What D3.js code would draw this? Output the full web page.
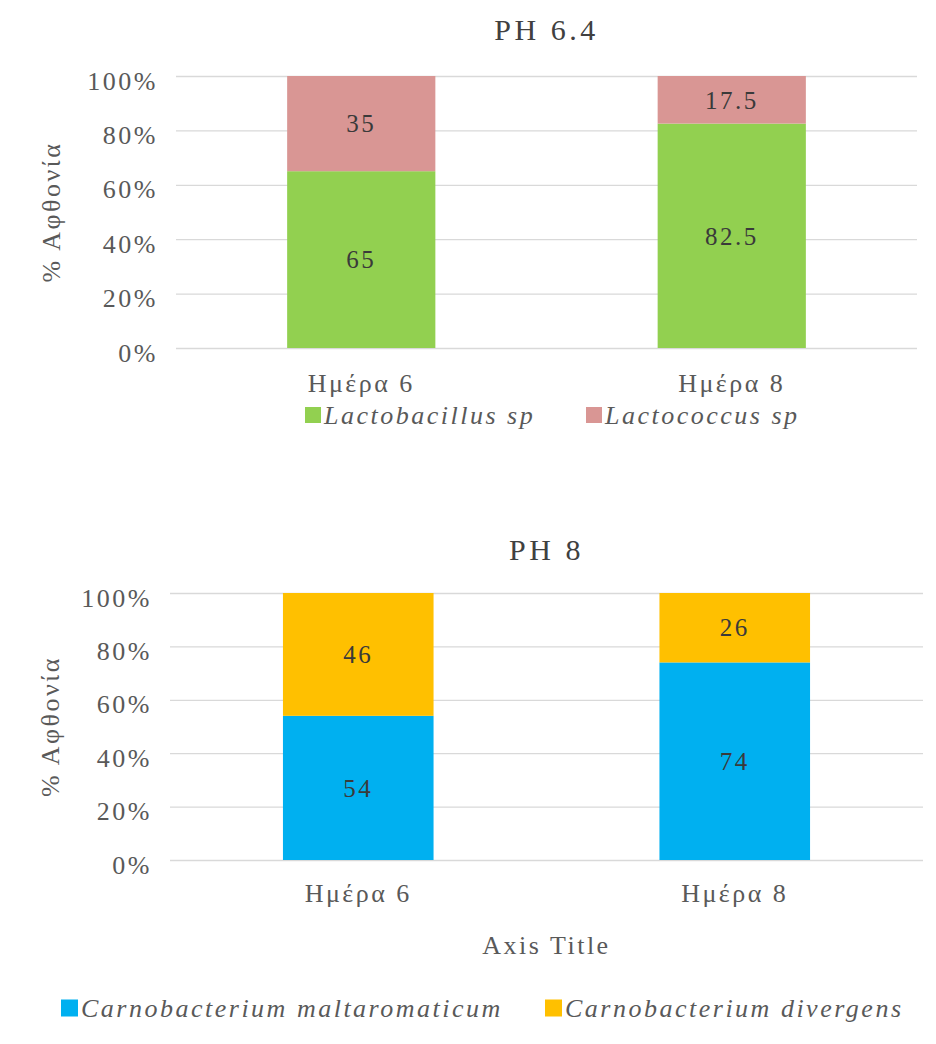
<!DOCTYPE html>
<html>
<head>
<meta charset="utf-8">
<script src="https://cdn.jsdelivr.net/npm/d3@7"></script>
<style>
  html, body { margin: 0; padding: 0; background: #fff; }
  svg text { font-family: 'Liberation Serif'; letter-spacing: 2.5px; }
</style>
</head>
<body>
<svg id="chart" width="936" height="1044" font-family="Liberation Serif"></svg>
<script>
// Categories and series values (percent abundance)
const categories = ["Ημέρα 6", "Ημέρα 8"];
const yTickValues = [0, 20, 40, 60, 80, 100];

const ph64Names = ["Lactobacillus sp", "Lactococcus sp"];
const lactobacillus = [65, 82.5];
const lactococcus = [35, 17.5];

const ph8Names = ["Carnobacterium maltaromaticum", "Carnobacterium divergens"];
const maltaromaticum = [54, 74];
const divergens = [46, 26];

const svg = d3.select("#chart");

function drawPanel(opt) {
  const g = svg.append("g");
  const rows = categories.map((c, i) => {
    const r = { cat: c };
    opt.names.forEach((n, k) => { r[n] = opt.values[k][i]; });
    return r;
  });
  const stacked = d3.stack().keys(opt.names)(rows);

  const x = d3.scaleBand().domain(categories)
    .range([opt.left, opt.right]).paddingInner(0.6).paddingOuter(0.3);
  const y = d3.scaleLinear().domain([0, 100]).range([opt.bottom, opt.top]);

  // title
  g.append("text")
    .attr("x", (opt.left + opt.right) / 2).attr("y", opt.titleY)
    .attr("text-anchor", "middle").attr("font-size", 30).attr("fill", "#404040")
    .style("letter-spacing", "3.5px")
    .text(opt.title);

  // gridlines + tick labels
  const yAxis = d3.axisLeft(y).tickValues(yTickValues)
    .tickSize(-(opt.right - opt.left)).tickPadding(18)
    .tickFormat(d => d + "%");
  const ax = g.append("g").attr("transform", `translate(${opt.left},0)`).call(yAxis);
  ax.attr("font-family", null);
  ax.select(".domain").remove();
  ax.selectAll(".tick line").attr("stroke", "#d9d9d9").attr("stroke-width", 1.3);
  ax.selectAll(".tick text").attr("font-size", 26).attr("fill", "#595959")
    .attr("dy", "0.5em");

  // y axis title
  g.append("text")
    .attr("transform", `translate(${opt.yTitleX},${(opt.top + opt.bottom) / 2}) rotate(-90)`)
    .attr("text-anchor", "middle").attr("dy", "0.35em")
    .attr("font-size", 26).attr("fill", "#595959")
    .text("% Αφθονία");

  // stacked bars
  stacked.forEach((layer, k) => {
    g.selectAll(null).data(layer).enter().append("rect")
      .attr("x", d => x(d.data.cat))
      .attr("width", x.bandwidth())
      .attr("y", d => y(d[1]))
      .attr("height", d => y(d[0]) - y(d[1]))
      .attr("fill", opt.colors[k]);
    g.selectAll(null).data(layer).enter().append("text")
      .attr("x", d => x(d.data.cat) + x.bandwidth() / 2)
      .attr("y", d => y((d[0] + d[1]) / 2))
      .attr("dy", "0.35em").attr("text-anchor", "middle")
      .attr("font-size", 25).attr("fill", "#3a3a3a")
      .text(d => d[1] - d[0]);
  });

  // category labels
  g.selectAll(null).data(categories).enter().append("text")
    .attr("x", d => x(d) + x.bandwidth() / 2)
    .attr("y", opt.bottom + opt.catOffset)
    .attr("text-anchor", "middle").attr("font-size", 26).attr("fill", "#595959")
    .text(d => d);

  if (opt.xTitle) {
    g.append("text")
      .attr("x", (opt.left + opt.right) / 2).attr("y", opt.xTitleY)
      .attr("text-anchor", "middle").attr("font-size", 26).attr("fill", "#595959")
      .text(opt.xTitle);
  }

  // legend
  opt.names.forEach((n, k) => {
    const lx = opt.legendX[k];
    g.append("rect").attr("x", lx).attr("y", opt.legendY - opt.swatch / 2)
      .attr("width", opt.swatch).attr("height", opt.swatch).attr("fill", opt.colors[k]);
    g.append("text").attr("x", lx + opt.swatch + 3).attr("y", opt.legendY)
      .attr("dy", "0.35em").attr("font-size", 26).attr("font-style", "italic")
      .attr("fill", "#595959").text(n);
  });
}

drawPanel({
  title: "PH 6.4", titleY: 40,
  names: ph64Names, values: [lactobacillus, lactococcus],
  colors: ["#92d050", "#d99694"],
  left: 176, right: 917, top: 76, bottom: 348,
  yTitleX: 51, catOffset: 44,
  legendX: [305, 586], legendY: 415, swatch: 16
});

drawPanel({
  title: "PH 8", titleY: 560,
  names: ph8Names, values: [maltaromaticum, divergens],
  colors: ["#00b0f0", "#ffc000"],
  left: 170, right: 923, top: 593, bottom: 860,
  yTitleX: 50, catOffset: 42,
  xTitle: "Axis Title", xTitleY: 954,
  legendX: [61, 545], legendY: 1008, swatch: 17
});
</script>
</body>
</html>
